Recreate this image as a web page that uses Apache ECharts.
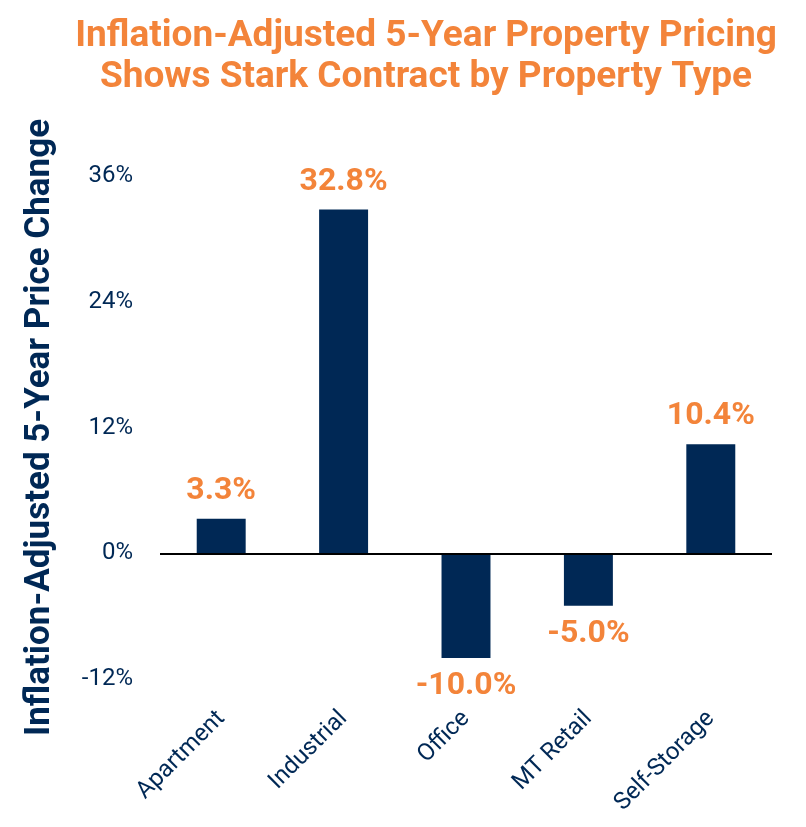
<!DOCTYPE html>
<html>
<head>
<meta charset="utf-8">
<script src="https://cdn.jsdelivr.net/npm/echarts@6/dist/echarts.min.js"></script>
<style>html,body{margin:0;padding:0;background:#fff;}#c{width:806px;height:827px;}</style>
</head>
<body>
<div id="c"></div>
<script>
const categories = ['Apartment', 'Industrial', 'Office', 'MT Retail', 'Self-Storage'];
const values = [3.3, 32.8, -10.0, -5.0, 10.4];
const yTicks = { min: -12, max: 36, interval: 12 };
const titleText = 'Inflation-Adjusted 5-Year Property Pricing\nShows Stark Contract by Property Type';
const yName = 'Inflation-Adjusted 5-Year Price Change';

const NAVY = '#002855';
const ORANGE = '#F3843A';
const chart = echarts.init(document.getElementById('c'), null, { renderer: 'canvas' });
chart.setOption({
  backgroundColor: '#ffffff',
  animation: false,
  title: {
    text: titleText,
    left: 421, top: 11, textAlign: 'center',
    textStyle: { color: ORANGE, fontFamily: 'Roboto', fontWeight: 'bold', fontSize: 37, lineHeight: 41 }
  },
  grid: { left: 160, right: 34, top: 176, bottom: 148, containLabel: false },
  xAxis: {
    type: 'category', data: categories,
    axisLine: { show: false, onZero: false },
    axisTick: { show: false },
    axisLabel: { rotate: 45, margin: 36, color: NAVY, fontFamily: 'Roboto', fontSize: 24, interval: 0 }
  },
  yAxis: {
    type: 'value', min: yTicks.min, max: yTicks.max, interval: yTicks.interval,
    name: yName, nameLocation: 'middle', nameGap: 102,
    nameTextStyle: { color: NAVY, fontFamily: 'Roboto', fontWeight: 'bold', fontSize: 35 },
    axisLine: { show: false }, axisTick: { show: false }, splitLine: { show: false },
    axisLabel: { color: NAVY, fontFamily: 'Roboto', fontSize: 24, margin: 27, formatter: v => v + '%' }
  },
  series: [{
    type: 'bar', data: values, barWidth: '40%',
    itemStyle: { color: NAVY },
    label: {
      show: true, position: 'outside', distance: 12,
      color: ORANGE, fontFamily: 'Roboto', fontWeight: 'bold', fontSize: 32,
      formatter: p => p.value.toFixed(1) + '%'
    },
    markLine: {
      silent: true, symbol: 'none', label: { show: false },
      lineStyle: { color: '#000', width: 2, type: 'solid' },
      data: [{ yAxis: 0 }]
    }
  }]
});
</script>
</body>
</html>
